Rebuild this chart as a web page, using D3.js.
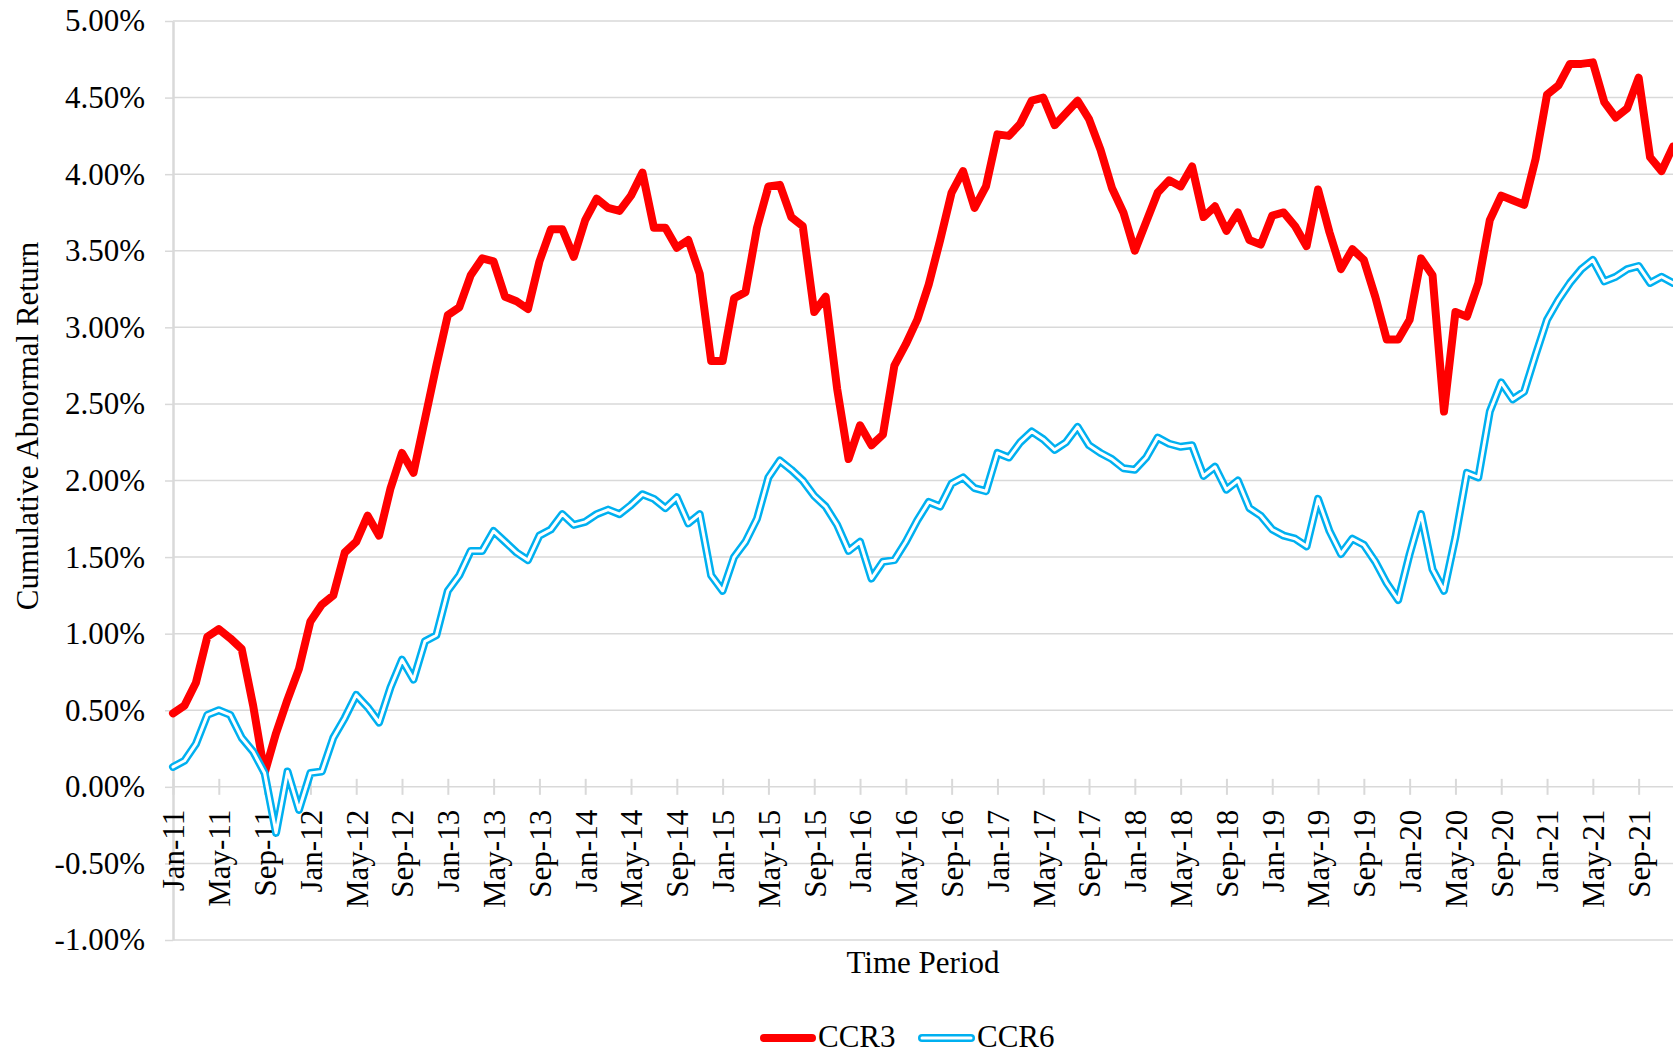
<!DOCTYPE html>
<html>
<head>
<meta charset="utf-8">
<script src="https://cdn.jsdelivr.net/npm/d3@7"></script>
<style>
  body { margin: 0; background: #fff; }
  text { font-family: "Liberation Serif", "Times New Roman", serif; fill: #000; }
</style>
</head>
<body>
<svg id="chart" width="1673" height="1055"></svg>
<script>
// Data (monthly, Jan-11 .. Dec-21), values in %
var months = ['Jan', 'Feb', 'Mar', 'Apr', 'May', 'Jun', 'Jul', 'Aug', 'Sep', 'Oct', 'Nov', 'Dec'];
var years = ['11', '12', '13', '14', '15', '16', '17', '18', '19', '20', '21'];
var categories = [];
years.forEach(function (yr) {
    months.forEach(function (m) { categories.push(m + '-' + yr); });
});

var ccr3 = [
    0.48, 0.53, 0.68, 0.98, 1.03, 0.97, 0.90, 0.53, 0.09, 0.35, 0.57, 0.77,
    1.08, 1.19, 1.25, 1.53, 1.60, 1.77, 1.64, 1.95, 2.18, 2.05, 2.40, 2.75,
    3.08, 3.13, 3.34, 3.45, 3.43, 3.20, 3.17, 3.12, 3.43, 3.64, 3.64, 3.46,
    3.70, 3.84, 3.78, 3.76, 3.86, 4.01, 3.65, 3.65, 3.52, 3.57, 3.35, 2.78,
    2.78, 3.19, 3.23, 3.65, 3.92, 3.93, 3.72, 3.66, 3.10, 3.20, 2.60, 2.14,
    2.36, 2.23, 2.30, 2.75, 2.89, 3.05, 3.28, 3.57, 3.88, 4.02, 3.78, 3.92,
    4.26, 4.25, 4.33, 4.48, 4.50, 4.32, 4.40, 4.48, 4.36, 4.16, 3.91, 3.75,
    3.50, 3.69, 3.88, 3.96, 3.92, 4.05, 3.72, 3.79, 3.63, 3.75, 3.57, 3.54,
    3.73, 3.75, 3.66, 3.53, 3.90, 3.62, 3.38, 3.51, 3.44, 3.20, 2.92, 2.92,
    3.05, 3.45, 3.34, 2.45, 3.10, 3.07, 3.29, 3.70, 3.86, 3.83, 3.80, 4.10,
    4.52, 4.58, 4.72, 4.72, 4.73, 4.47, 4.37, 4.43, 4.63, 4.11, 4.02, 4.18
];

var ccr6 = [
    0.13, 0.17, 0.28, 0.47, 0.50, 0.47, 0.32, 0.23, 0.09, -0.30, 0.10, -0.15,
    0.09, 0.10, 0.32, 0.45, 0.60, 0.52, 0.42, 0.65, 0.83, 0.70, 0.95, 0.99,
    1.28, 1.38, 1.54, 1.54, 1.67, 1.60, 1.53, 1.48, 1.64, 1.68, 1.78, 1.71,
    1.73, 1.78, 1.81, 1.78, 1.84, 1.91, 1.88, 1.82, 1.89, 1.72, 1.78, 1.38,
    1.28, 1.50, 1.60, 1.75, 2.02, 2.13, 2.07, 2.00, 1.90, 1.83, 1.71, 1.54,
    1.60, 1.36, 1.47, 1.48, 1.60, 1.74, 1.86, 1.83, 1.98, 2.02, 1.95, 1.93,
    2.18, 2.15, 2.25, 2.32, 2.27, 2.20, 2.25, 2.35, 2.23, 2.18, 2.14, 2.08,
    2.07, 2.15, 2.28, 2.24, 2.22, 2.23, 2.03, 2.09, 1.94, 2.00, 1.82, 1.77,
    1.68, 1.64, 1.62, 1.57, 1.88, 1.67, 1.52, 1.62, 1.58, 1.47, 1.33, 1.22,
    1.52, 1.78, 1.42, 1.28, 1.63, 2.05, 2.02, 2.45, 2.64, 2.53, 2.58, 2.82,
    3.05, 3.18, 3.29, 3.38, 3.44, 3.30, 3.33, 3.38, 3.40, 3.29, 3.33, 3.29
];

var yTicks = [-1, -0.5, 0, 0.5, 1, 1.5, 2, 2.5, 3, 3.5, 4, 4.5, 5];
var xTicks = categories.filter(function (d, i) { return i % 4 === 0; });

var fontSize = 31;
var gridColor = '#d9d9d9';

var svg = d3.select('#chart');

svg.append('rect')
    .attr('width', 1673)
    .attr('height', 1055)
    .attr('fill', '#fff');

// Scales
var x = d3.scalePoint().domain(categories).range([173, 1673]);
var y = d3.scaleLinear().domain([-1, 5]).range([940, 21]);

// Horizontal gridlines
svg.append('g')
    .selectAll('line')
    .data(yTicks)
    .enter()
    .append('line')
    .attr('x1', 173)
    .attr('x2', 1673)
    .attr('y1', function (d) { return y(d); })
    .attr('y2', function (d) { return y(d); })
    .attr('stroke', gridColor)
    .attr('stroke-width', 1.5);

// Y axis
var yAxis = d3.axisLeft(y)
    .tickValues(yTicks)
    .tickFormat(function (d) { return d.toFixed(2) + '%'; })
    .tickSizeInner(8)
    .tickSizeOuter(0)
    .tickPadding(20);

var gy = svg.append('g')
    .attr('transform', 'translate(173,0)')
    .call(yAxis);

gy.select('.domain').attr('stroke', gridColor).attr('stroke-width', 2.5);
gy.selectAll('.tick line').attr('stroke', gridColor).attr('stroke-width', 1.5);
gy.selectAll('.tick text')
    .attr('font-size', fontSize)
    .attr('font-family', '"Liberation Serif", "Times New Roman", serif')
    .attr('fill', '#000');

// X axis at 0%
var xAxis = d3.axisBottom(x)
    .tickValues(xTicks)
    .tickSizeOuter(0);

var gx = svg.append('g')
    .attr('transform', 'translate(0,' + y(0) + ')')
    .call(xAxis);

gx.select('.domain').remove();
gx.selectAll('.tick line')
    .attr('y1', -8)
    .attr('y2', 8)
    .attr('stroke', gridColor)
    .attr('stroke-width', 2);
gx.selectAll('.tick text')
    .attr('x', 0)
    .attr('y', 0)
    .attr('dy', '0.35em')
    .attr('transform', 'translate(0,23) rotate(-90)')
    .attr('text-anchor', 'end')
    .attr('font-size', fontSize)
    .attr('font-family', '"Liberation Serif", "Times New Roman", serif')
    .attr('fill', '#000');

// Lines
var line = d3.line()
    .x(function (d, i) { return x(categories[i]); })
    .y(function (d) { return y(d); });

svg.append('path')
    .datum(ccr3)
    .attr('d', line)
    .attr('fill', 'none')
    .attr('stroke', '#ff0000')
    .attr('stroke-width', 8)
    .attr('stroke-linejoin', 'round')
    .attr('stroke-linecap', 'round');

// CCR6 is a double line: wide blue with a white core
svg.append('path')
    .datum(ccr6)
    .attr('d', line)
    .attr('fill', 'none')
    .attr('stroke', '#00b0f0')
    .attr('stroke-width', 8)
    .attr('stroke-linejoin', 'round')
    .attr('stroke-linecap', 'round');

svg.append('path')
    .datum(ccr6)
    .attr('d', line)
    .attr('fill', 'none')
    .attr('stroke', '#fff')
    .attr('stroke-width', 3)
    .attr('stroke-linejoin', 'round')
    .attr('stroke-linecap', 'round');

// Axis titles
svg.append('text')
    .attr('transform', 'translate(38,426) rotate(-90)')
    .attr('text-anchor', 'middle')
    .attr('font-size', fontSize)
    .text('Cumulative Abnormal Return');

svg.append('text')
    .attr('x', 923)
    .attr('y', 973)
    .attr('text-anchor', 'middle')
    .attr('font-size', fontSize)
    .text('Time Period');

// Legend
var legend = svg.append('g');

legend.append('line')
    .attr('x1', 764).attr('x2', 812)
    .attr('y1', 1038).attr('y2', 1038)
    .attr('stroke', '#ff0000')
    .attr('stroke-width', 8)
    .attr('stroke-linecap', 'round');

legend.append('text')
    .attr('x', 818)
    .attr('y', 1047)
    .attr('font-size', fontSize)
    .text('CCR3');

legend.append('line')
    .attr('x1', 922).attr('x2', 971)
    .attr('y1', 1038).attr('y2', 1038)
    .attr('stroke', '#00b0f0')
    .attr('stroke-width', 8)
    .attr('stroke-linecap', 'round');

legend.append('line')
    .attr('x1', 922).attr('x2', 971)
    .attr('y1', 1038).attr('y2', 1038)
    .attr('stroke', '#fff')
    .attr('stroke-width', 3)
    .attr('stroke-linecap', 'round');

legend.append('text')
    .attr('x', 977)
    .attr('y', 1047)
    .attr('font-size', fontSize)
    .text('CCR6');
</script>
</body>
</html>
